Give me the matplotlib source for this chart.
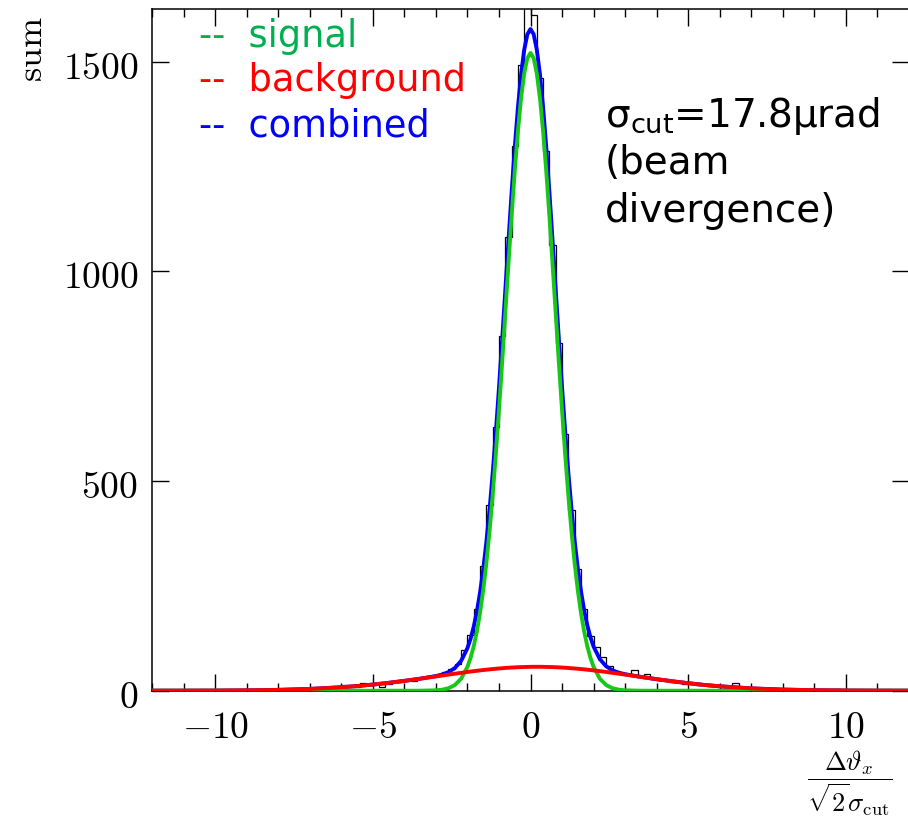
import numpy as np
import matplotlib
matplotlib.use("Agg")
import matplotlib.pyplot as plt
from matplotlib.transforms import ScaledTranslation

plt.rcParams["font.family"] = ["DejaVu Sans"]
plt.rcParams["mathtext.fontset"] = "cm"

# --- data -----------------------------------------------------------------
# histogram: 120 bins of width 0.2 between -12 and 12
HIST_RANGE = (-12.0, 12.0)
HIST_COUNTS = [
    0, 0, 0, 1, 0, 0, 0, 1, 0, 0,
    1, 0, 1, 0, 1, 2, 1, 0, 2, 1,
    3, 2, 4, 2, 5, 3, 6, 5, 8, 6,
    14, 11, 10, 18, 14, 16, 8, 17, 22, 21,
    25, 24, 30, 33, 35, 38, 44, 52, 63, 98,
    134, 196, 298, 442, 628, 846, 1082, 1300, 1492, 1650,
    1612, 1462, 1288, 1064, 829, 612, 430, 290, 196, 130,
    104, 80, 60, 48, 42, 40, 50, 34, 39, 29,
    25, 26, 20, 21, 17, 18, 14, 15, 11, 12,
    9, 10, 18, 6, 5, 6, 4, 3, 4, 2,
    3, 5, 1, 2, 1, 1, 0, 2, 3, 0,
    1, 0, 0, 1, 0, 0, 0, 0, 1, 0,
]

# fitted curves, sampled where read
CURVE_X = [-12, -11, -10, -9, -8, -7, -6, -5.5, -5, -4.5, -4, -3.5, -3,
           -2.8, -2.6, -2.4, -2.2,
           -2.0, -1.9, -1.8, -1.7, -1.6, -1.5, -1.4, -1.3, -1.2, -1.1,
           -1.0, -0.9, -0.8, -0.7, -0.6, -0.5, -0.4, -0.3, -0.2, -0.1,
           0.0, 0.1, 0.2, 0.3, 0.4, 0.5, 0.6, 0.7, 0.8, 0.9,
           1.0, 1.1, 1.2, 1.3, 1.4, 1.5, 1.6, 1.7, 1.8, 1.9, 2.0,
           2.2, 2.4, 2.6, 2.8, 3, 3.5, 4, 4.5, 5, 5.5, 6, 7, 8, 9, 10, 11, 12]
SIGNAL = [0, 0, 0, 0, 0, 0, 0, 0, 0, 0, 0, 0, 0.9,
          2.4, 5.9, 13.4, 28.5,
          56.8, 78.3, 106.1, 141.5, 185.5, 239.4, 303.8, 379.3, 465.8, 562.7,
          668.7, 781.7, 898.9, 1016.8, 1131.4, 1238.5, 1333.6, 1412.6, 1471.8, 1508.5,
          1521, 1508.5, 1471.8, 1412.6, 1333.6, 1238.5, 1131.4, 1016.8, 898.9, 781.7,
          668.7, 562.7, 465.8, 379.3, 303.8, 239.4, 185.5, 141.5, 106.1, 78.3, 56.8,
          28.5, 13.4, 5.9, 2.4, 0.9, 0, 0, 0, 0, 0, 0, 0, 0, 0, 0, 0, 0]
BACKGROUND = [0.03, 0.10, 0.30, 0.80, 1.92, 4.19, 8.21, 11.1, 14.6, 18.7, 23.4, 28.6, 34.0,
              36.2, 38.4, 40.5, 42.6,
              44.7, 45.7, 46.6, 47.5, 48.4, 49.3, 50.1, 50.9, 51.6, 52.3,
              53.0, 53.6, 54.2, 54.7, 55.2, 55.6, 56.0, 56.3, 56.5, 56.7,
              56.9, 57.0, 57.0, 57.0, 56.9, 56.7, 56.5, 56.3, 56.0, 55.6,
              55.2, 54.7, 54.2, 53.6, 53.0, 52.3, 51.6, 50.9, 50.1, 49.3, 48.4,
              46.6, 44.7, 42.6, 40.5, 38.4, 32.9, 27.5, 22.4, 17.9, 13.8, 10.5,
              5.5, 2.66, 1.15, 0.45, 0.16, 0.05]

XTICKS = [-10, -5, 0, 5, 10]
XTICK_LABELS = [r"$-10$", r"$-5$", r"$0$", r"$5$", r"$10$"]
YTICKS = [0, 500, 1000, 1500]
YTICK_LABELS = [r"$0$", r"$500$", r"$1000$", r"$1500$"]

LEGEND_ITEMS = [("--  signal", "#00b050"), ("--  background", "#ff0000"),
                ("--  combined", "#0000ff")]
NOTE_LINES = [r"σ$_{\rm cut}$=17.8μrad", "(beam", "divergence)"]

# --- figure ----------------------------------------------------------------
W, H = 908, 818
fig = plt.figure(figsize=(W / 100, H / 100), dpi=100)
ax = fig.add_axes([152 / W, 1 - 690.7 / H, 757 / W, 681.4 / H])

edges = np.linspace(HIST_RANGE[0], HIST_RANGE[1], len(HIST_COUNTS) + 1)
ax.stairs(HIST_COUNTS, edges, color="black", lw=0.9, zorder=1)

cx = np.array(CURVE_X)
sig = np.array(SIGNAL)
bkg = np.array(BACKGROUND)
ax.plot(cx, sig + bkg, color="#0000ff", lw=2.8, zorder=2)
ax.plot(cx, sig, color="#18c818", lw=2.8, zorder=3)
ax.plot(cx, bkg, color="#ff0000", lw=2.8, zorder=4)

ax.set_xlim(-12, 12)
ax.set_ylim(0, 1625)
ax.set_xticks(XTICKS)
ax.set_xticklabels(XTICK_LABELS)
ax.set_xticks(np.arange(-12, 13, 1), minor=True)
ax.set_yticks(YTICKS)
ax.set_yticklabels(YTICK_LABELS)

for s in ax.spines.values():
    s.set_linewidth(1.1)
ax.tick_params(which="both", direction="in", top=True, right=True, width=1.0)
ax.tick_params(which="major", length=12, labelsize=27)
ax.tick_params(which="minor", length=6)
ax.tick_params(axis="x", which="major", pad=14)
ax.tick_params(axis="y", which="major", pad=10)
shift = ScaledTranslation(0, -3 / 100, fig.dpi_scale_trans)
for lab in ax.get_yticklabels():
    lab.set_transform(lab.get_transform() + shift)

fig.text(32 / W, 1 - 16 / H, r"$\mathrm{sum}$", rotation=90, ha="center",
         va="top", fontsize=26)
fig.text(850 / W, 1 - 783 / H,
         r"$\dfrac{\Delta\vartheta_x}{\sqrt{2}\sigma_{\rm cut}}$",
         ha="center", va="center", fontsize=19)

for i, (label, col) in enumerate(LEGEND_ITEMS):
    fig.text(199 / W, 1 - (46.7 + 44.7 * i) / H, label, color=col,
             fontsize=26.5, ha="left", va="baseline")

for i, line in enumerate(NOTE_LINES):
    fig.text(605 / W, 1 - (126.7 + 47.5 * i) / H, line, color="black",
             fontsize=28, ha="left", va="baseline",
             math_fontfamily="dejavusans")

fig.savefig("out.png", dpi=100)
